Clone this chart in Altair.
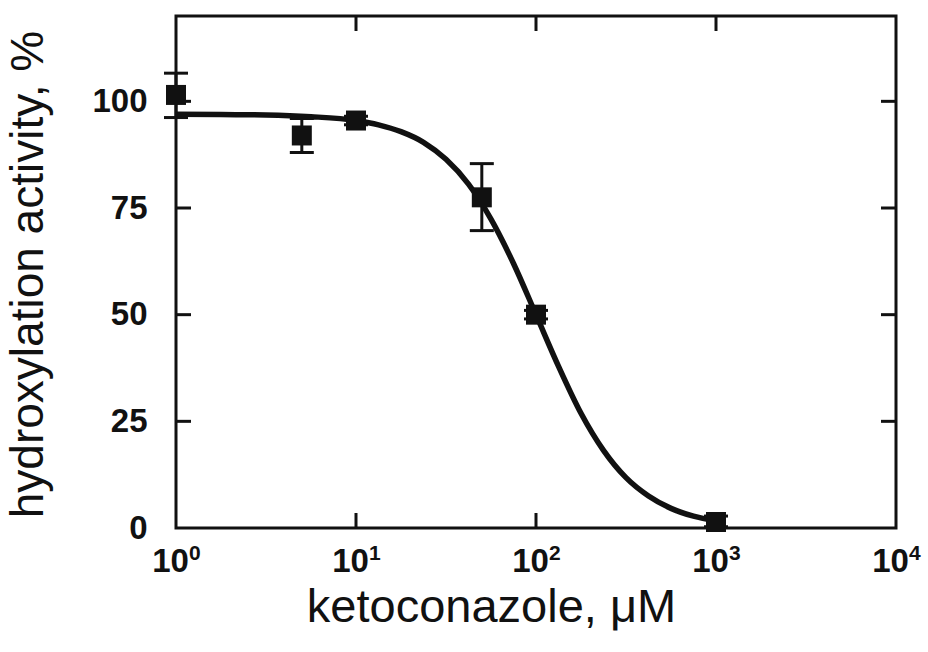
import altair as alt
import pandas as pd

# measured points (ketoconazole concentration, µM) and activity (%)
conc = [1, 5, 10, 50, 100, 1000]
activity = [101.5, 92.0, 95.5, 77.5, 50.0, 1.4]
err_lo = [96.2, 88.0, 94.5, 69.7, 49.0, 0.3]
err_hi = [106.6, 96.0, 96.5, 85.4, 51.0, 2.8]

# fitted curve
curve_x = [1, 1.778, 3.162, 5.623, 10, 13.34, 17.78, 23.71, 31.62, 42.17, 56.23,
           74.99, 100, 133.4, 177.8, 237.1, 316.2, 421.7, 562.3, 749.9, 1000]
curve_y = [97.0, 96.9, 96.8, 96.4, 95.5, 94.5, 92.9, 90.4, 86.4, 80.6, 72.4,
           62.0, 50.0, 37.9, 26.9, 18.2, 11.8, 7.5, 4.6, 2.8, 1.7]

x_ticks = [1, 10, 100, 1000, 10000]
x_exps = ["0", "1", "2", "3", "4"]
x_inner_ticks = [10, 100, 1000]
y_ticks = [0, 25, 50, 75, 100]
y_inner_ticks = [25, 50, 75, 100]

pts = pd.DataFrame({"x": conc, "y": activity, "lo": err_lo, "hi": err_hi})
crv = pd.DataFrame({"x": curve_x, "y": curve_y})
exps = pd.DataFrame({"x": x_ticks, "e": x_exps})
xt = pd.DataFrame({"x": x_inner_ticks})
yt = pd.DataFrame({"y": y_inner_ticks})

W, H = 720, 512
INK = "#111111"
TL = 15

xscale = alt.Scale(type="log", domain=[1, 10000], nice=False)
yscale = alt.Scale(domain=[0, 120], nice=False, zero=False)

xaxis = alt.Axis(values=x_ticks, labelExpr="'10'", ticks=False, tickSize=0, domain=False,
                 grid=False, labelFont="Liberation Sans", labelFontWeight="bold",
                 labelFontSize=33, labelColor=INK, labelPadding=17, labelOffset=-6,
                 labelFlush=False, labelOverlap=False,
                 title="ketoconazole, μM", titleFont="Liberation Sans",
                 titleFontWeight="normal", titleFontSize=47, titleColor=INK,
                 titleX=315, titleY=93, titleAlign="center", titleBaseline="alphabetic")
yaxis = alt.Axis(values=y_ticks, ticks=False, tickSize=0, domain=False, grid=False,
                 labelFont="Liberation Sans", labelFontWeight="bold", labelFontSize=33,
                 labelColor=INK, labelPadding=29, labelFlush=False,
                 title="hydroxylation activity, %", titleFont="Liberation Sans",
                 titleFontWeight="normal", titleFontSize=46, titleColor=INK,
                 titleX=-148, titleY=258, titleAlign="center", titleBaseline="middle")

curve = alt.Chart(crv).mark_line(color=INK, strokeWidth=5.5, interpolate="monotone").encode(
    x=alt.X("x:Q", scale=xscale, axis=xaxis),
    y=alt.Y("y:Q", scale=yscale, axis=yaxis),
)

bars = alt.Chart(pts).mark_rule(color=INK, strokeWidth=3, opacity=1).encode(
    x=alt.X("x:Q", scale=xscale), y=alt.Y("lo:Q", scale=yscale), y2="hi:Q")
cap_lo = alt.Chart(pts).mark_tick(color=INK, orient="horizontal", size=24, thickness=3,
                                  opacity=1).encode(
    x=alt.X("x:Q", scale=xscale), y=alt.Y("lo:Q", scale=yscale))
cap_hi = alt.Chart(pts).mark_tick(color=INK, orient="horizontal", size=24, thickness=3,
                                  opacity=1).encode(
    x=alt.X("x:Q", scale=xscale), y=alt.Y("hi:Q", scale=yscale))

squares = alt.Chart(pts).mark_point(shape="square", filled=True, color=INK, size=400, opacity=1).encode(
    x=alt.X("x:Q", scale=xscale), y=alt.Y("y:Q", scale=yscale))

sup = alt.Chart(exps).mark_text(font="Liberation Sans", fontWeight="bold", fontSize=21,
                                color=INK, align="left", baseline="alphabetic", dx=13).encode(
    x=alt.X("x:Q", scale=xscale), y=alt.value(544), text="e:N")

tick_bottom = alt.Chart(xt).mark_rule(color=INK, strokeWidth=3).encode(
    x=alt.X("x:Q", scale=xscale), y=alt.value(H), y2=alt.value(H - TL))
tick_top = alt.Chart(xt).mark_rule(color=INK, strokeWidth=3).encode(
    x=alt.X("x:Q", scale=xscale), y=alt.value(0), y2=alt.value(TL))
tick_left = alt.Chart(yt).mark_rule(color=INK, strokeWidth=3).encode(
    y=alt.Y("y:Q", scale=yscale), x=alt.value(0), x2=alt.value(TL))
tick_right = alt.Chart(yt).mark_rule(color=INK, strokeWidth=3).encode(
    y=alt.Y("y:Q", scale=yscale), x=alt.value(W), x2=alt.value(W - TL))

chart = alt.layer(
    curve, tick_bottom, tick_top, tick_left, tick_right, bars, cap_lo, cap_hi, squares, sup
).properties(
    width=W, height=H, autosize="none", background="white",
    padding={"left": 176, "top": 16, "right": 32, "bottom": 124},
).configure_view(stroke=INK, strokeWidth=3)

chart.save("out.html", embed_options={"renderer": "svg", "actions": False})
